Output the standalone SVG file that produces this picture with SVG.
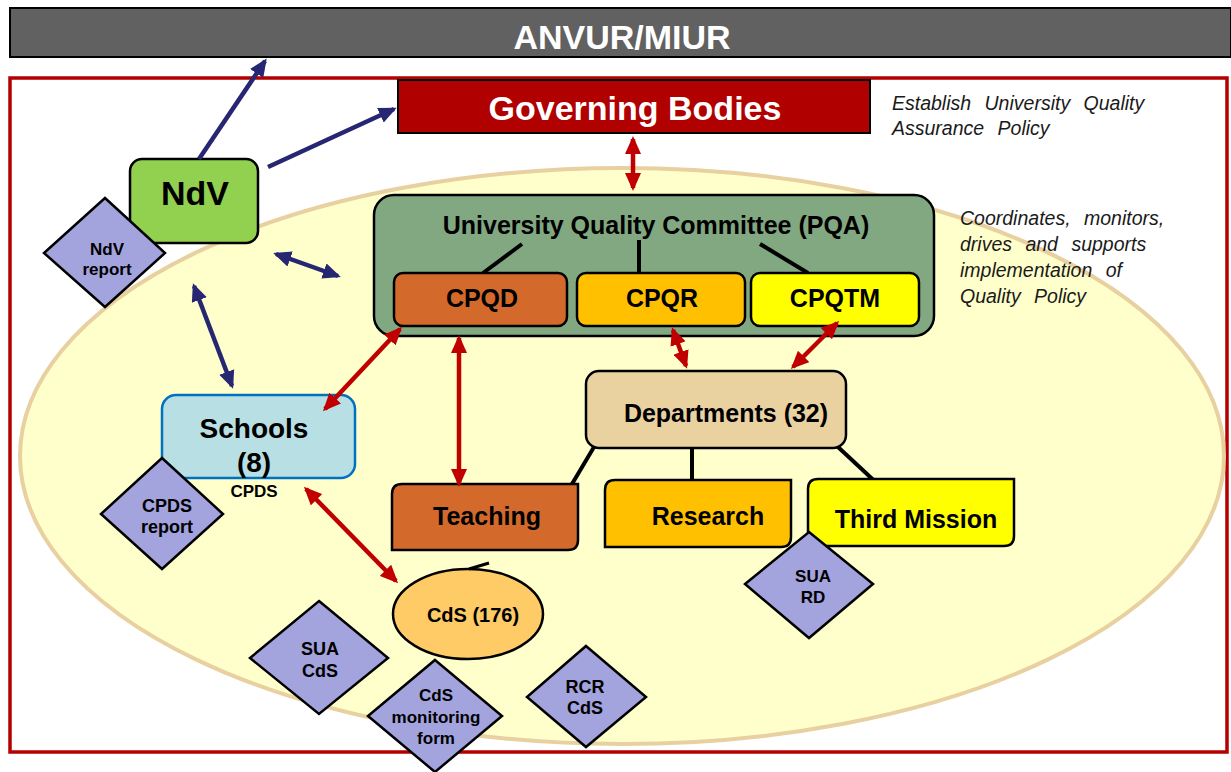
<svg xmlns="http://www.w3.org/2000/svg" width="1231" height="772" viewBox="0 0 1231 772">
<defs>
<style>
text{font-family:"Liberation Sans",Arial,sans-serif;font-weight:bold;text-anchor:middle;fill:#000}
.box{stroke:#000;stroke-width:2.5}
.dia{fill:#a3a3de;stroke:#000;stroke-width:2.5}
.it{font-weight:normal;font-style:italic;text-anchor:start;font-size:19.5px;word-spacing:8px;fill:#1a1a1a}
.blue{stroke:#262673;stroke-width:4.5;fill:none}
.red{stroke:#c00000;stroke-width:4.5;fill:none}
.tie{stroke:#000;stroke-width:4;fill:none}
</style>
<marker id="hb" viewBox="0 0 18 16" refX="15" refY="8" markerWidth="18" markerHeight="16" markerUnits="userSpaceOnUse" orient="auto-start-reverse"><path d="M0,0 L18,8 L0,16 z" fill="#262673"/></marker>
<marker id="hr" viewBox="0 0 18 16" refX="15" refY="8" markerWidth="18" markerHeight="16" markerUnits="userSpaceOnUse" orient="auto-start-reverse"><path d="M0,0 L18,8 L0,16 z" fill="#c00000"/></marker>
</defs>
<rect width="1231" height="772" fill="#fff"/>
<g id="anvur">
<rect x="10" y="8" width="1221" height="49" fill="#616161" stroke="#000" stroke-width="2"/>
<text x="622" y="49" font-size="34" style="fill:#fff">ANVUR/MIUR</text>
</g>
<rect id="frame" x="10" y="78" width="1217" height="674" fill="none" stroke="#b40000" stroke-width="3.5"/>
<ellipse id="university" cx="622" cy="456" rx="602" ry="288" fill="#ffffcc" stroke="#e8d0a0" stroke-width="4"/>
<g id="governing">
<rect x="398" y="80" width="472" height="53" fill="#b00000" stroke="#000" stroke-width="2"/>
<text x="635" y="120" font-size="34" style="fill:#fff">Governing Bodies</text>
</g>
<text class="it" x="892" y="110">Establish University Quality</text>
<text class="it" x="892" y="135">Assurance Policy</text>
<text class="it" x="960" y="225">Coordinates, monitors,</text>
<text class="it" x="960" y="251">drives and supports</text>
<text class="it" x="960" y="277">implementation of</text>
<text class="it" x="960" y="303">Quality Policy</text>
<g id="pqa">
<rect x="374" y="195" width="560" height="141" rx="20" fill="#82a882" class="box"/>
<text x="656" y="234" font-size="25">University Quality Committee (PQA)</text>
<line class="tie" x1="522" y1="244" x2="483" y2="273"/>
<line class="tie" x1="639" y1="240" x2="639" y2="273"/>
<line class="tie" x1="760" y1="244" x2="808" y2="273"/>
</g>
<g id="cpqd"><rect x="394" y="273" width="173" height="53" rx="9" fill="#d4692c" class="box"/><text x="482" y="307" font-size="25">CPQD</text></g>
<g id="cpqr"><rect x="577" y="273" width="168" height="53" rx="9" fill="#ffc000" class="box"/><text x="662" y="307" font-size="25">CPQR</text></g>
<g id="cpqtm"><rect x="751" y="273" width="168" height="53" rx="9" fill="#ffff00" class="box"/><text x="835" y="307" font-size="25">CPQTM</text></g>
<g id="ndv"><rect x="130" y="159" width="128" height="84" rx="12" fill="#92d050" class="box"/><text x="195" y="205" font-size="34">NdV</text></g>
<g id="ndv-report"><polygon class="dia" points="105,198 165,253 105,307 44,253"/><text x="107" y="255" font-size="17">NdV</text><text x="107" y="275" font-size="17">report</text></g>
<g id="schools">
<rect x="162" y="395" width="193" height="83" rx="14" fill="#b8e0e4" stroke="#0070c0" stroke-width="2.5"/>
<text x="254" y="438" font-size="28">Schools</text>
<text x="254" y="472" font-size="28">(8)</text>
<text x="254" y="497" font-size="17">CPDS</text>
</g>
<g id="cpds-report"><polygon class="dia" points="162,458 223,514 162,569 101,514"/><text x="167" y="512" font-size="18">CPDS</text><text x="167" y="533" font-size="18">report</text></g>
<g id="departments">
<rect x="586" y="371" width="260" height="77" rx="13" fill="#e9d1a0" class="box"/>
<text x="726" y="422" font-size="25">Departments (32)</text>
</g>
<g id="connectors-tree">
<line class="tie" x1="594" y1="447" x2="572" y2="484"/>
<line class="tie" x1="692" y1="448" x2="692" y2="480"/>
<line class="tie" x1="838" y1="447" x2="882" y2="488"/>
</g>
<g id="teaching"><path d="M402,484 H578 V540 Q578,550 568,550 H392 V494 Q392,484 402,484 Z" fill="#d4692c" class="box"/><text x="487" y="525" font-size="25">Teaching</text></g>
<g id="research"><path d="M615,480 H791 V537 Q791,547 781,547 H605 V490 Q605,480 615,480 Z" fill="#ffc000" class="box"/><text x="708" y="525" font-size="25">Research</text></g>
<g id="third-mission"><path d="M818,479 H1014 V536 Q1014,546 1004,546 H808 V489 Q808,479 818,479 Z" fill="#ffff00" class="box"/><text x="916" y="528" font-size="25">Third Mission</text></g>
<g id="sua-rd"><polygon class="dia" points="809,532 873,584 809,638 745,584"/><text x="813" y="582" font-size="17">SUA</text><text x="813" y="603" font-size="17">RD</text></g>
<g id="cds">
<ellipse cx="468" cy="614" rx="75" ry="45" fill="#fecb66" class="box"/>
<line x1="469" y1="569" x2="489" y2="563" stroke="#000" stroke-width="3"/>
<text x="473" y="622" font-size="20">CdS (176)</text>
</g>
<g id="sua-cds"><polygon class="dia" points="319,601 388,658 319,714 250,658"/><text x="320" y="655" font-size="18">SUA</text><text x="320" y="677" font-size="18">CdS</text></g>
<g id="rcr-cds"><polygon class="dia" points="586,646 646,697 586,747 527,697"/><text x="585" y="693" font-size="18">RCR</text><text x="585" y="714" font-size="18">CdS</text></g>
<g id="cds-form"><polygon class="dia" points="435,660 502,716 435,772 368,716"/><text x="436" y="701" font-size="17">CdS</text><text x="436" y="723" font-size="17">monitoring</text><text x="436" y="744" font-size="17">form</text></g>
<g id="connectors">
<line class="blue" x1="199" y1="159" x2="265" y2="61" marker-end="url(#hb)"/>
<line class="blue" x1="268" y1="167" x2="394" y2="109" marker-end="url(#hb)"/>
<line class="blue" x1="276" y1="254" x2="338" y2="276" marker-start="url(#hb)" marker-end="url(#hb)"/>
<line class="blue" x1="194" y1="286" x2="232" y2="386" marker-start="url(#hb)" marker-end="url(#hb)"/>
<line class="red" x1="633" y1="139" x2="633" y2="188" marker-start="url(#hr)" marker-end="url(#hr)"/>
<line class="red" x1="400" y1="329" x2="325" y2="409" marker-start="url(#hr)" marker-end="url(#hr)"/>
<line class="red" x1="459" y1="338" x2="459" y2="484" marker-start="url(#hr)" marker-end="url(#hr)"/>
<line class="red" x1="673" y1="330" x2="686" y2="366" marker-start="url(#hr)" marker-end="url(#hr)"/>
<line class="red" x1="837" y1="323" x2="793" y2="367" marker-start="url(#hr)" marker-end="url(#hr)"/>
<line class="red" x1="306" y1="489" x2="396" y2="581" marker-start="url(#hr)" marker-end="url(#hr)"/>
</g>
</svg>
